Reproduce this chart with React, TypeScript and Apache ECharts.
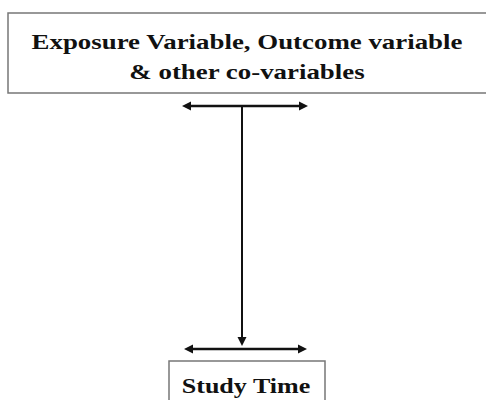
import React, { useEffect, useRef } from "react";
import * as echarts from "echarts";

const topLabels = ["Exposure Variable, Outcome variable", "& other co-variables"];
const bottomLabels = ["Study Time"];

export default function App() {
  const ref = useRef<HTMLDivElement>(null);
  useEffect(() => {
    const chart = echarts.init(ref.current!, null, { renderer: "svg" });
    const font = { fontFamily: "Liberation Serif", fontWeight: "bold" as const, fontSize: 21, fill: "#111" };
    const head = (tipX: number, tipY: number, dir: "left" | "right" | "down") => {
      const L = 9, W = 4.5;
      let pts: number[][];
      if (dir === "left") pts = [[tipX, tipY], [tipX + L, tipY - W], [tipX + L, tipY + W]];
      else if (dir === "right") pts = [[tipX, tipY], [tipX - L, tipY - W], [tipX - L, tipY + W]];
      else pts = [[tipX, tipY], [tipX - W, tipY - L], [tipX + W, tipY - L]];
      return { type: "polygon", shape: { points: pts }, style: { fill: "#111" } };
    };
    const elements: any[] = [
      { type: "rect", shape: { x: 8, y: 13, width: 490, height: 80 }, style: { fill: "#fff", stroke: "#777", lineWidth: 1.5 } },
      ...topLabels.map((t, i) => ({
        type: "text", x: 247, y: 42 + i * 30, scaleX: 1.28,
        style: { text: t, ...font, textAlign: "center", textVerticalAlign: "middle" },
      })),
      { type: "line", shape: { x1: 186, y1: 106, x2: 304, y2: 106 }, style: { stroke: "#111", lineWidth: 2.5 } },
      head(182, 106, "left"), head(308, 106, "right"),
      { type: "line", shape: { x1: 242, y1: 106, x2: 242, y2: 338 }, style: { stroke: "#111", lineWidth: 2 } },
      head(242, 346, "down"),
      { type: "line", shape: { x1: 189, y1: 349, x2: 303, y2: 349 }, style: { stroke: "#111", lineWidth: 2.5 } },
      head(184, 349, "left"), head(307, 349, "right"),
      { type: "rect", shape: { x: 169, y: 361, width: 156, height: 50 }, style: { fill: "#fff", stroke: "#777", lineWidth: 1.5 } },
      ...bottomLabels.map((t) => ({
        type: "text", x: 246, y: 386, scaleX: 1.24,
        style: { text: t, ...font, textAlign: "center", textVerticalAlign: "middle" },
      })),
    ];
    chart.setOption({ animation: false, backgroundColor: "#fff", graphic: { elements } });
    return () => chart.dispose();
  }, []);
  return <div ref={ref} style={{ position: "fixed", left: 0, top: 0, width: 486, height: 400 }} />;
}
